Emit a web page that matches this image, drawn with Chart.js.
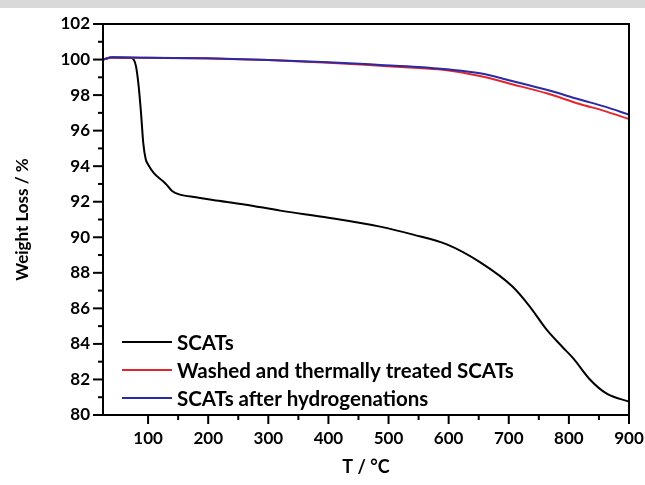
<!DOCTYPE html>
<html>
<head>
<meta charset="utf-8">
<script src="https://cdn.jsdelivr.net/npm/chart.js@4"></script>
<style>
  html, body { margin: 0; padding: 0; background: #fff; }
  #wrap { width: 645px; height: 485px; }
</style>
</head>
<body>
<div id="wrap"><canvas id="myChart" width="645" height="485"></canvas></div>
<script>
// data
let scatsT = [25, 40, 70, 76, 80, 84, 88, 92, 96, 100, 110, 125, 131, 140, 153, 180, 208, 260, 320, 400, 486, 541, 597, 652, 707, 735, 763, 790, 807, 835, 863, 900];
let scatsW = [100.0, 100.12, 100.1, 100.0, 99.6, 98.6, 97.1, 95.3, 94.4, 94.1, 93.6, 93.15, 92.95, 92.6, 92.4, 92.25, 92.1, 91.85, 91.5, 91.1, 90.6, 90.15, 89.6, 88.6, 87.2, 86.1, 84.8, 83.8, 83.2, 82.0, 81.2, 80.75];

let treatedT = [25, 40, 100, 200, 300, 400, 486, 550, 597, 652, 707, 763, 818, 860, 900];
let washedW = [100.0, 100.12, 100.1, 100.06, 99.97, 99.82, 99.65, 99.52, 99.4, 99.07, 98.6, 98.1, 97.5, 97.1, 96.65];
let hydrogW = [100.0, 100.13, 100.1, 100.07, 99.98, 99.85, 99.7, 99.58, 99.45, 99.23, 98.78, 98.3, 97.75, 97.35, 96.9];

let seriesNames = ["SCATs", "Washed and thermally treated SCATs", "SCATs after hydrogenations"];
let seriesColors = ["#000000", "#e3262c", "#2a2aa6"];

function toPoints(xs, ys) {
  return xs.map((x, i) => ({ x: x, y: ys[i] }));
}

let fontName = "Lato, 'Open Sans', sans-serif";

// grey band, frame, ticks (major + minor) and legend
let extras = {
  id: "extras",
  beforeDraw(chart) {
    let c = chart.ctx;
    c.save();
    c.fillStyle = "#d9d9d9";
    c.fillRect(0, 0, chart.width, 8);
    c.restore();
  },
  afterDraw(chart) {
    let c = chart.ctx;
    let a = chart.chartArea;
    let xs = chart.scales.x;
    let ys = chart.scales.y;
    c.save();
    c.strokeStyle = "#000";
    c.lineWidth = 2;
    c.strokeRect(a.left, a.top, a.right - a.left, a.bottom - a.top);

    // x ticks
    xs.ticks.forEach(t => {
      if (t.value <= xs.min) return;
      let px = xs.getPixelForValue(t.value);
      let len = t.value % 100 === 0 ? 9 : 5;
      c.beginPath();
      c.moveTo(px, a.bottom);
      c.lineTo(px, a.bottom + len);
      c.stroke();
    });
    // y ticks
    ys.ticks.forEach(t => {
      let py = ys.getPixelForValue(t.value);
      let len = t.value % 2 === 0 ? 10 : 5;
      c.beginPath();
      c.moveTo(a.left, py);
      c.lineTo(a.left - len, py);
      c.stroke();
    });

    // legend in the lower left of the plot
    c.font = "bold 20.5px " + fontName;
    c.textBaseline = "middle";
    c.textAlign = "left";
    seriesNames.forEach((name, i) => {
      let y = a.bottom - 73 + i * 28;
      c.strokeStyle = seriesColors[i];
      c.lineWidth = 2;
      c.beginPath();
      c.moveTo(a.left + 19, y);
      c.lineTo(a.left + 69, y);
      c.stroke();
      c.fillStyle = "#000";
      c.fillText(name, a.left + 74, y + 1);
    });
    c.restore();
  }
};

let ctx = document.getElementById("myChart").getContext("2d");

let data = {
  datasets: [
    {
      label: seriesNames[0],
      data: toPoints(scatsT, scatsW),
      borderColor: seriesColors[0],
      order: 2,
    },
    {
      label: seriesNames[1],
      data: toPoints(treatedT, washedW),
      borderColor: seriesColors[1],
      order: 1,
    },
    {
      label: seriesNames[2],
      data: toPoints(treatedT, hydrogW),
      borderColor: seriesColors[2],
      order: 0,
    },
  ],
};

let options = {
  responsive: false,
  animation: false,
  layout: { padding: { top: 24, right: 16, left: 0, bottom: 0 } },
  elements: {
    point: { radius: 0 },
    line: { borderWidth: 2, cubicInterpolationMode: "monotone", fill: false },
  },
  plugins: {
    legend: { display: false },
    tooltip: { enabled: false },
  },
  scales: {
    x: {
      type: "linear",
      min: 25,
      max: 900,
      afterFit: (s) => {
        s.height = 70;
        s.paddingLeft = 0;
        s.paddingRight = 0;
      },
      grid: { drawOnChartArea: false, drawTicks: false },
      border: { display: false },
      ticks: {
        stepSize: 50,
        autoSkip: false,
        maxRotation: 0,
        padding: 13,
        color: "#000",
        font: { family: fontName, size: 17, weight: "bold" },
        callback: (v) => (v % 100 === 0 ? v : ""),
      },
      title: {
        display: true,
        text: "T / °C",
        color: "#000",
        font: { family: fontName, size: 18, weight: "bold" },
        padding: { top: 0, bottom: 7 },
      },
    },
    y: {
      min: 80,
      max: 102,
      afterFit: (s) => {
        s.width = 103;
        s.paddingTop = 0;
        s.paddingBottom = 0;
      },
      grid: { drawOnChartArea: false, drawTicks: false },
      border: { display: false },
      ticks: {
        stepSize: 1,
        autoSkip: false,
        padding: 13,
        color: "#000",
        font: { family: fontName, size: 17, weight: "bold" },
        callback: (v) => (v % 2 === 0 ? v : ""),
      },
      title: {
        display: true,
        text: "Weight Loss / %",
        color: "#000",
        font: { family: fontName, size: 17, weight: "bold" },
        padding: { top: 12, bottom: 0 },
      },
    },
  },
};

let myChart = new Chart(ctx, {
  type: "line",
  data: data,
  options: options,
  plugins: [extras],
});
</script>
</body>
</html>
